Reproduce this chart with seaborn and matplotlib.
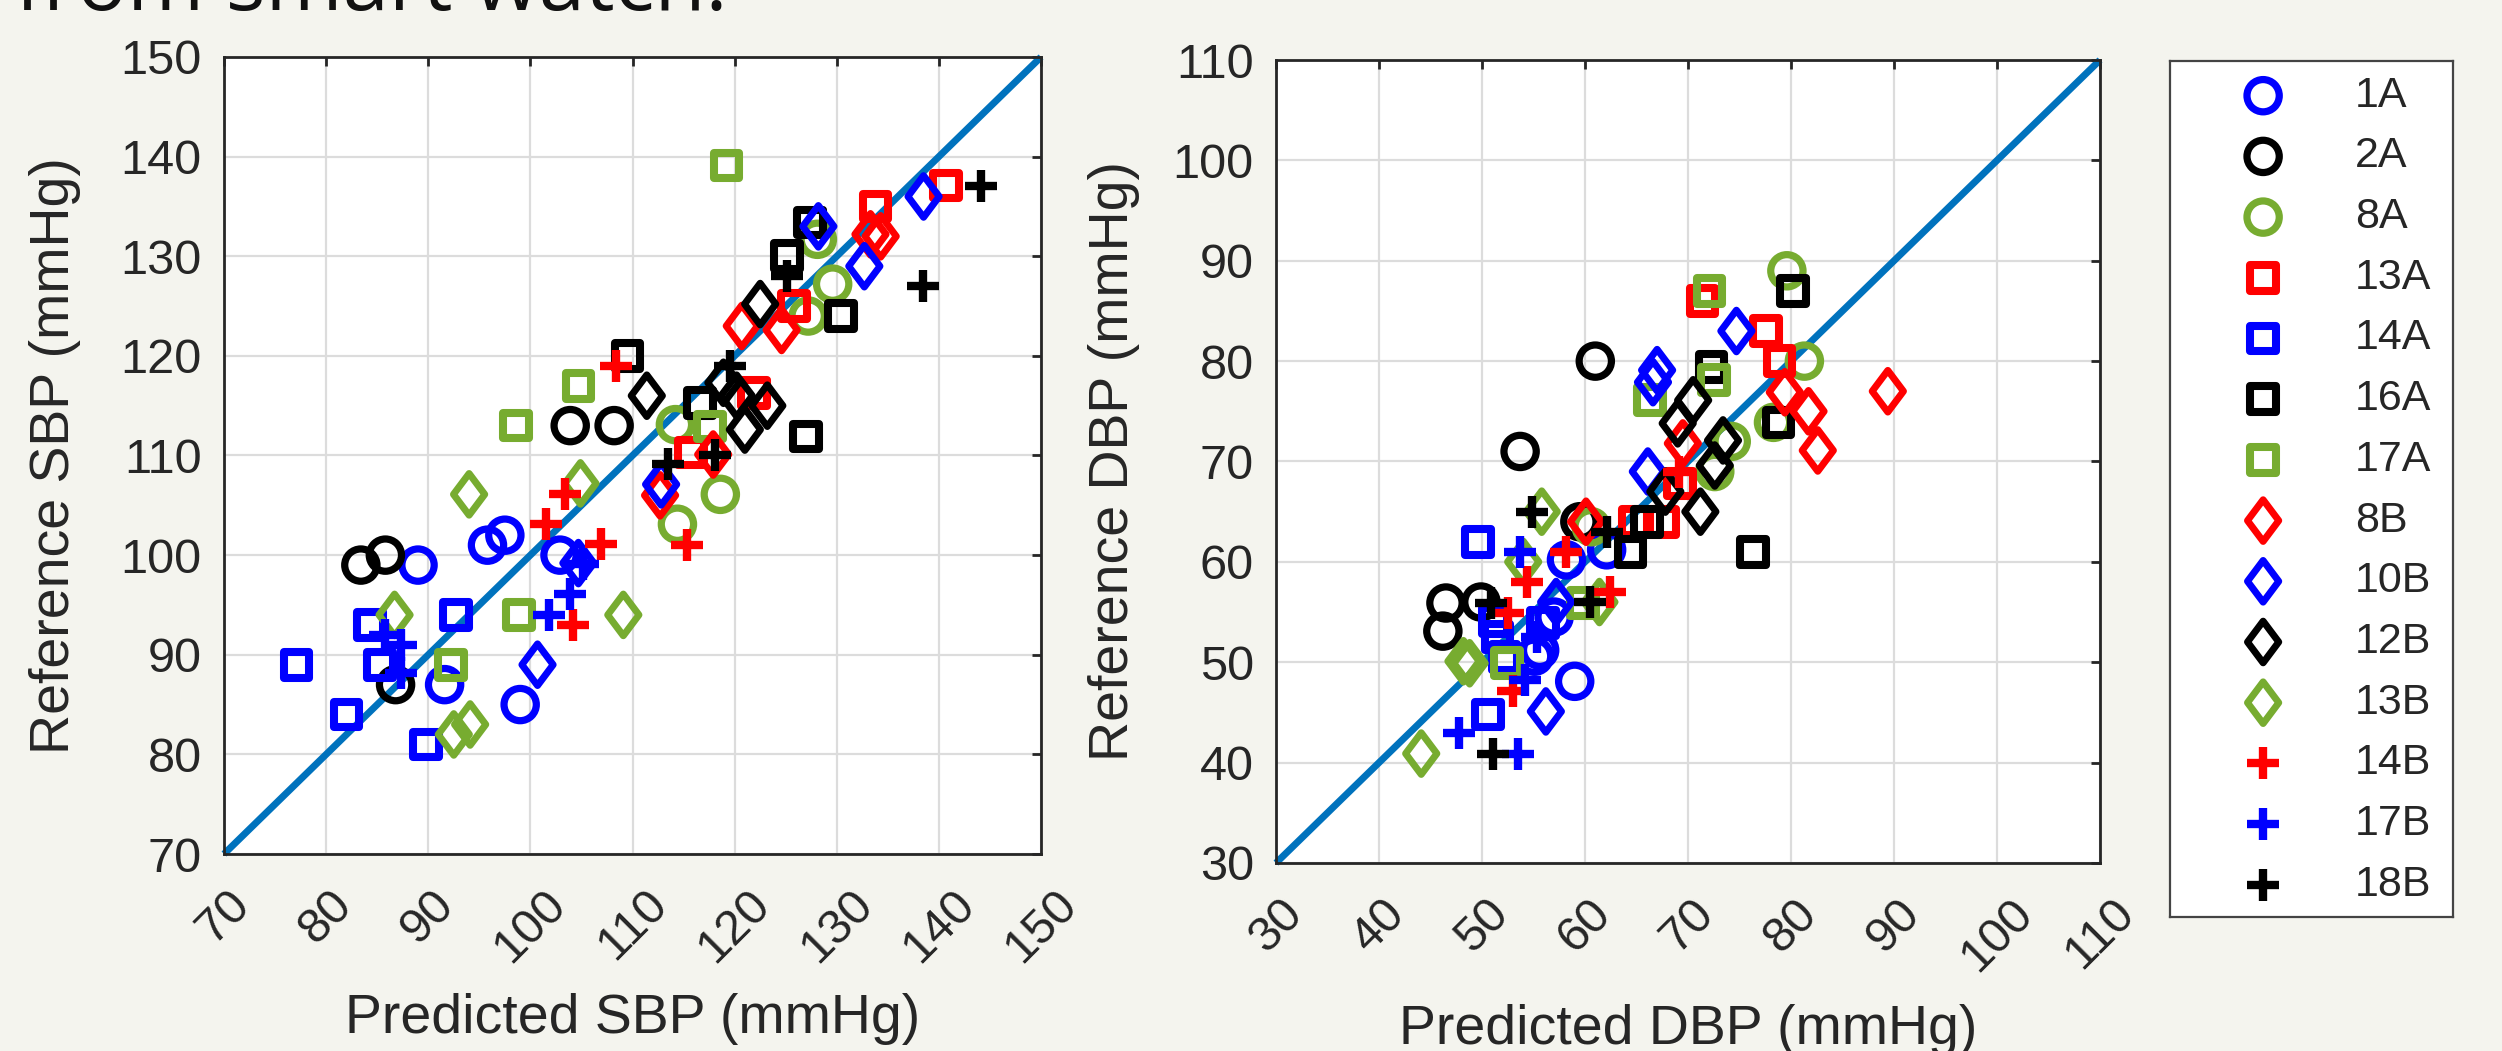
import numpy as np
import matplotlib.pyplot as plt
import seaborn as sns
from matplotlib.path import Path
from matplotlib.markers import MarkerStyle

# - - - subjects, legend order - - - #
subjects = ["1A", "2A", "8A", "13A", "14A", "16A", "17A",
            "8B", "10B", "12B", "13B", "14B", "17B", "18B"]
colors = ["#0000ff", "#000000", "#77ac30", "#ff0000", "#0000ff", "#000000", "#77ac30",
          "#ff0000", "#0000ff", "#000000", "#77ac30", "#ff0000", "#0000ff", "#000000"]
shapes = ["circle", "circle", "circle", "square", "square", "square", "square",
          "diamond", "diamond", "diamond", "diamond", "plus", "plus", "plus"]

# - - - SBP: predicted (x) vs reference (y) - - - #
sbp_pred = {
    "1A": [89.0, 95.8, 97.5, 102.9, 91.6, 99.0],
    "2A": [83.4, 85.8, 86.8, 103.9, 108.2],
    "8A": [114.2, 114.4, 118.6, 127.2, 129.6, 128.1],
    "13A": [115.7, 121.9, 125.8, 133.8, 140.7],
    "14A": [92.7, 84.3, 77.1, 85.3, 82.0, 89.8],
    "16A": [109.5, 116.6, 127.0, 130.4, 125.1, 127.4],
    "17A": [119.2, 104.7, 98.6, 98.9, 92.2, 117.6],
    "8B": [112.7, 117.9, 120.7, 124.6, 133.3, 134.3],
    "10B": [112.8, 104.7, 100.7, 128.2, 132.7, 138.5],
    "12B": [111.4, 118.9, 120.2, 123.2, 121.0, 122.5],
    "13B": [94.0, 104.9, 86.7, 109.1, 92.5, 94.1],
    "14B": [103.4, 101.5, 106.9, 104.2, 115.3, 108.4],
    "17B": [105.2, 103.9, 101.8, 85.8, 87.3, 87.3],
    "18B": [119.5, 118.1, 113.5, 125.1, 138.4, 144.1],
}
sbp_ref = {
    "1A": [99, 101, 102, 100, 87, 85],
    "2A": [99, 100, 87, 113, 113],
    "8A": [113.1, 103.1, 106.1, 124.0, 127.2, 131.7],
    "13A": [110.3, 116.3, 125.0, 135.0, 137.1],
    "14A": [94, 93, 89, 89, 84, 81],
    "16A": [120, 115.3, 111.9, 124, 130, 133.4],
    "17A": [139.1, 117, 113, 94, 89, 112.9],
    "8B": [106.0, 110.1, 123.0, 122.6, 132.2, 132.0],
    "10B": [107.1, 99.2, 89.0, 133.0, 129.0, 136.0],
    "12B": [116.0, 117.3, 116.0, 115.0, 112.6, 125.2],
    "13B": [106.1, 107.2, 94, 94, 82, 83],
    "14B": [106.1, 103.1, 101.1, 93.0, 101.0, 119.0],
    "17B": [99.1, 96.1, 94.0, 92.0, 91.0, 88.2],
    "18B": [119.0, 110.1, 109.1, 128.0, 127.0, 137.1],
}

# - - - DBP: predicted (x) vs reference (y) - - - #
dbp_pred = {
    "1A": [58.2, 62.1, 57.0, 55.1, 55.6, 59.0],
    "2A": [61.0, 53.7, 59.5, 46.5, 49.9, 46.2],
    "8A": [79.6, 81.3, 78.3, 74.2, 72.6, 60.6],
    "13A": [71.4, 77.6, 78.9, 64.8, 67.6, 69.2],
    "14A": [49.6, 51.2, 51.5, 55.9, 52.2, 50.6],
    "16A": [72.3, 80.2, 78.8, 76.3, 64.4, 66.0],
    "17A": [72.1, 72.5, 66.3, 59.8, 52.4],
    "8B": [89.4, 79.4, 81.7, 82.6, 69.5, 60.1],
    "10B": [74.7, 67.0, 66.6, 66.1, 57.2, 56.2],
    "12B": [70.5, 69.0, 73.4, 72.6, 67.8, 71.2],
    "13B": [55.8, 54.0, 61.4, 48.2, 48.8, 44.1],
    "14B": [69.1, 58.2, 54.4, 52.5, 62.4, 53.0],
    "17B": [53.7, 55.3, 54.2, 47.8, 53.5],
    "18B": [54.9, 62.1, 50.9, 60.5, 51.1],
}
dbp_ref = {
    "1A": [60.2, 61.2, 54.5, 50.6, 51.2, 48.1],
    "2A": [80, 71, 64, 55.9, 56, 53.1],
    "8A": [89, 80, 73.9, 72.0, 69.0, 63.5],
    "13A": [86, 83, 80, 64, 64, 67.8],
    "14A": [62, 54.1, 52.5, 53.9, 50.5, 44.8],
    "16A": [79.4, 87, 73.9, 61, 61, 64],
    "17A": [87, 78.1, 76.1, 55.9, 49.9],
    "8B": [77, 76.9, 75, 71.1, 71.8, 64],
    "10B": [83, 79.1, 77.9, 69, 56, 45.1],
    "12B": [76.1, 73.8, 72.1, 69.6, 67, 65],
    "13B": [65, 60, 56, 50.1, 49.9, 40.9],
    "14B": [69, 61, 58, 54.9, 57, 47.1],
    "17B": [61, 52.5, 48.2, 43, 40.9],
    "18B": [65, 63, 55.9, 56, 40.9],
}

sbp_lim = (70, 150)
dbp_lim = (30, 110)

# - - - MATLAB-ish look - - - #
sns.set_style("white")
plt.rcParams['font.family'] = ['Liberation Sans', 'DejaVu Sans']
bg = "#f4f4ee"
ink = "#262626"

diamond_path = Path([(0, 1), (0.75, 0), (0, -1), (-0.75, 0), (0, 1)],
                    [Path.MOVETO, Path.LINETO, Path.LINETO, Path.LINETO, Path.CLOSEPOLY])
MARKERS = {
    "circle": (MarkerStyle("o"), 540, 5.2),
    "square": (MarkerStyle("s"), 340, 5.8),
    "diamond": (MarkerStyle(diamond_path, joinstyle="miter"), 900, 5.0),
    "plus": (MarkerStyle("+"), 560, 6.0),
}


def draw_group(ax, x, y, shape, color):
    m, s, lw = MARKERS[shape]
    if shape == "plus":
        sns.scatterplot(x=x, y=y, ax=ax, marker=m, s=s, color=color,
                        edgecolor=None, linewidth=lw, legend=False, zorder=3, clip_on=False)
    else:
        sns.scatterplot(x=x, y=y, ax=ax, marker=m, s=s, color=color, facecolor="none",
                        edgecolor=color, linewidth=lw, legend=False, zorder=3, clip_on=False)


def style_axes(ax, lim, xlabel, ylabel, ylab_x):
    ticks = np.arange(lim[0], lim[1] + 1, 10)
    ax.set_xlim(lim)
    ax.set_ylim(lim)
    ax.set_xticks(ticks)
    ax.set_yticks(ticks)
    ax.set_xticklabels([str(t) for t in ticks], rotation=45, ha="center")
    ax.grid(True, color="#dcdcdc", lw=1.6)
    ax.set_axisbelow(True)
    ax.tick_params(direction="in", length=6.5, width=2, color=ink, labelcolor=ink,
                   labelsize=35, top=True, right=True)
    ax.tick_params(axis="x", pad=20)
    ax.tick_params(axis="y", pad=16)
    for sp in ax.spines.values():
        sp.set_color(ink)
        sp.set_linewidth(2)
        sp.set_zorder(4)
    ax.set_xlabel(xlabel, fontsize=40, color=ink)
    ax.set_ylabel(ylabel, fontsize=40, color=ink)
    ax.xaxis.set_label_coords(0.5, -0.175)
    ax.yaxis.set_label_coords(ylab_x, 0.5)


fig = plt.figure(figsize=(25.02, 10.51), dpi=100, facecolor=bg)
ax1 = fig.add_axes([0.08953, 0.18744, 0.32654, 0.75833])
ax2 = fig.add_axes([0.50999, 0.17888, 0.32934, 0.76403])
axl = fig.add_axes([0.86731, 0.12750, 0.11311, 0.81446])

for ax, lim, px, py in [(ax1, sbp_lim, sbp_pred, sbp_ref), (ax2, dbp_lim, dbp_pred, dbp_ref)]:
    ax.plot(lim, lim, color="#0072bd", lw=5, zorder=2, clip_on=False, solid_capstyle="butt")
    for name, col, shp in zip(subjects, colors, shapes):
        draw_group(ax, px[name], py[name], shp, col)

style_axes(ax1, sbp_lim, "Predicted SBP (mmHg)", "Reference SBP (mmHg)", -0.175)
style_axes(ax2, dbp_lim, "Predicted DBP (mmHg)", "Reference DBP (mmHg)", -0.165)

# - - - legend box - - - #
axl.set_xlim(0, 1)
axl.set_ylim(0, 1)
axl.set_xticks([])
axl.set_yticks([])
axl.set_facecolor("white")
for sp in axl.spines.values():
    sp.set_color("#444444")
    sp.set_linewidth(1.6)
leg_y = (917 - (95.7 + 60.7 * np.arange(len(subjects)))) / 856
for i, (name, col, shp) in enumerate(zip(subjects, colors, shapes)):
    draw_group(axl, [0.329], [leg_y[i]], shp, col)
    axl.text(0.654, leg_y[i], name, ha="left", va="center", fontsize=31, color=ink)

fig.text(15 / 2502, 1 - 10 / 1051, "from smart watch.", fontsize=60,
         family=["Open Sans", "DejaVu Sans"], ha="left", va="baseline", color="#111111")

fig.savefig("out.png", dpi=100, facecolor=fig.get_facecolor())
